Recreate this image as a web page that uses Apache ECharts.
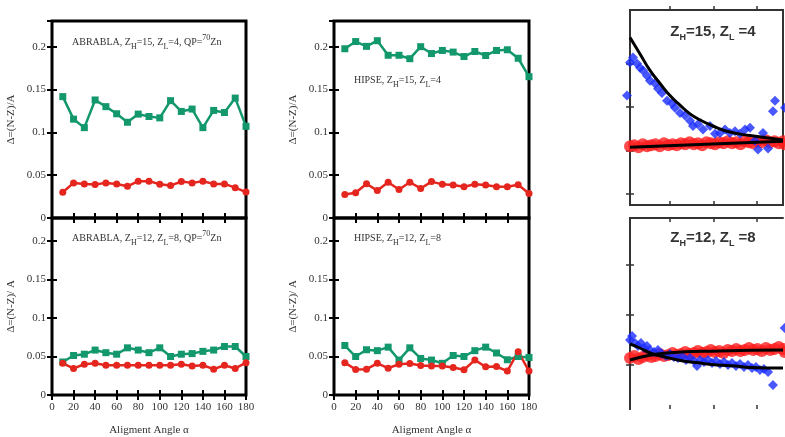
<html>
<head>
<meta charset="utf-8">
<script src="https://cdn.jsdelivr.net/npm/echarts@6/dist/echarts.min.js"></script>
<style>
  html, body, #main { width: 785px; height: 437px; margin: 0; background: #fff; }
</style>
</head>
<body>
<div id="main"></div>
<script>
// alignment angles (deg) of the simulation panels
var angles = [10, 20, 30, 40, 50, 60, 70, 80, 90, 100, 110, 120, 130, 140, 150, 160, 170, 180];

// ABRABLA, ZH=15, ZL=4
var abr1504Green = [0.1417, 0.1154, 0.1055, 0.1378, 0.130, 0.1217, 0.1118, 0.1213, 0.1185, 0.1169, 0.137, 0.1244, 0.1272, 0.1055, 0.1256, 0.1232, 0.140, 0.107];
var abr1504Red = [0.030, 0.041, 0.0398, 0.039, 0.041, 0.0398, 0.037, 0.043, 0.043, 0.0394, 0.038, 0.0425, 0.041, 0.043, 0.0398, 0.0398, 0.0354, 0.0303];
// ABRABLA, ZH=12, ZL=8
var abr1208Green = [0.0429, 0.0513, 0.053, 0.0584, 0.055, 0.053, 0.0613, 0.0584, 0.055, 0.0613, 0.050, 0.053, 0.0538, 0.0567, 0.0584, 0.063, 0.063, 0.050];
var abr1208Red = [0.0412, 0.0345, 0.040, 0.0412, 0.0387, 0.0387, 0.0387, 0.0387, 0.0387, 0.0387, 0.0387, 0.040, 0.0378, 0.0387, 0.0336, 0.0387, 0.0345, 0.042];
// HIPSE, ZH=15, ZL=4
var hip1504Green = [0.1976, 0.206, 0.2004, 0.207, 0.190, 0.190, 0.186, 0.200, 0.192, 0.1956, 0.1937, 0.1885, 0.1944, 0.1897, 0.1956, 0.1964, 0.1865, 0.165];
var hip1504Red = [0.0274, 0.0294, 0.040, 0.032, 0.0417, 0.0333, 0.0417, 0.0345, 0.0425, 0.0393, 0.0385, 0.0365, 0.0393, 0.0385, 0.0365, 0.0365, 0.0389, 0.0286];
// HIPSE, ZH=12, ZL=8
var hip1208Green = [0.0643, 0.050, 0.0588, 0.0576, 0.0622, 0.0454, 0.0613, 0.0475, 0.0454, 0.0412, 0.0513, 0.050, 0.0576, 0.0622, 0.0546, 0.0458, 0.050, 0.0487];
var hip1208Red = [0.042, 0.0332, 0.0336, 0.0412, 0.0349, 0.040, 0.0408, 0.0382, 0.0378, 0.0378, 0.0357, 0.0328, 0.0454, 0.0366, 0.037, 0.0311, 0.0563, 0.0311];

// experimental panels (right column), [x, y] pairs
var exp1504Blue = [[-3.5, 0.163], [0, 0.201], [3.5, 0.207], [8.2, 0.200], [11.8, 0.195], [15.3, 0.192], [20, 0.186], [23.5, 0.180], [29.4, 0.177], [33, 0.171], [37.6, 0.166], [43.5, 0.157], [49.4, 0.154], [52.9, 0.149], [58.8, 0.143], [64.7, 0.140], [70.6, 0.134], [74.1, 0.128], [80, 0.130], [85.9, 0.124], [94.1, 0.128], [100, 0.119], [105.9, 0.120], [111.8, 0.124], [117.6, 0.120], [123.5, 0.122], [129.4, 0.119], [135.3, 0.124], [141.2, 0.126], [147, 0.111], [150.6, 0.101], [156.5, 0.120], [162.4, 0.102], [168.2, 0.145], [170.6, 0.157], [182.4, 0.149]];
var exp1504Red = [[0, 0.1047], [5, 0.1058], [10, 0.1035], [15, 0.107], [20, 0.1047], [25, 0.1058], [30, 0.107], [35, 0.1047], [40, 0.1081], [45, 0.1058], [50, 0.107], [55, 0.1058], [60, 0.1081], [65, 0.107], [70, 0.1093], [75, 0.107], [80, 0.1081], [85, 0.1058], [90, 0.1093], [95, 0.1081], [100, 0.107], [105, 0.1093], [110, 0.1081], [115, 0.1105], [120, 0.1081], [125, 0.1093], [130, 0.107], [135, 0.1105], [140, 0.1093], [145, 0.1081], [150, 0.1105], [155, 0.1093], [160, 0.1116], [165, 0.1093], [170, 0.1105], [175, 0.1081], [180, 0.1105], [182, 0.107]];
var exp1504BlueFit = [[0, 0.230], [11.8, 0.211], [23.5, 0.192], [35.3, 0.177], [47, 0.163], [58.8, 0.152], [70.6, 0.142], [82.4, 0.135], [97.6, 0.128], [117.6, 0.121], [141.2, 0.117], [180, 0.112]];
var exp1504RedFit = [[0, 0.1035], [89.4, 0.107], [180, 0.1105]];

var exp1208Blue = [[0, 0.075], [2.4, 0.079], [5.9, 0.072], [9.4, 0.069], [12.9, 0.072], [16.5, 0.067], [20, 0.069], [23.5, 0.065], [28.2, 0.063], [32.9, 0.065], [37.6, 0.061], [42.4, 0.059], [47, 0.061], [51.8, 0.058], [56.5, 0.057], [61.2, 0.059], [65.9, 0.055], [70.6, 0.057], [75.3, 0.054], [78.8, 0.049], [82.4, 0.055], [87, 0.053], [91.8, 0.055], [96.5, 0.052], [101.2, 0.054], [105.9, 0.051], [110.6, 0.053], [115.3, 0.050], [120, 0.052], [124.7, 0.049], [129.4, 0.051], [134.1, 0.048], [138.8, 0.050], [143.5, 0.047], [148.2, 0.048], [152.9, 0.045], [157.6, 0.046], [162.4, 0.043], [168.2, 0.030], [182, 0.087]];
var exp1208Red = [[0, 0.057], [5, 0.059], [10, 0.056], [15, 0.058], [20, 0.060], [25, 0.058], [30, 0.059], [35, 0.061], [40, 0.059], [45, 0.060], [50, 0.062], [55, 0.060], [60, 0.061], [65, 0.063], [70, 0.061], [75, 0.062], [80, 0.064], [85, 0.062], [90, 0.063], [95, 0.065], [100, 0.063], [105, 0.064], [110, 0.062], [115, 0.065], [120, 0.064], [125, 0.066], [130, 0.064], [135, 0.065], [140, 0.067], [145, 0.065], [150, 0.066], [155, 0.064], [160, 0.067], [165, 0.065], [170, 0.066], [175, 0.068], [180, 0.066], [182, 0.063]];
var exp1208BlueFit = [[0, 0.071], [11.8, 0.067], [23.5, 0.062], [41.2, 0.058], [62.4, 0.054], [82.4, 0.052], [102.4, 0.050], [123.5, 0.049], [141.2, 0.0475], [180, 0.047]];
var exp1208RedFit = [[0, 0.055], [43.5, 0.062], [105.9, 0.064], [180, 0.065]];

var GREEN = '#13976c';
var RED = '#e5261f';
var SERIF = 'Liberation Serif';

var chart = echarts.init(document.getElementById('main'));

var grids = [
  { left: 52, top: 21, width: 194, height: 197 },
  { left: 52, top: 218, width: 194, height: 182 },
  { left: 334, top: 21, width: 195, height: 197 },
  { left: 334, top: 218, width: 195, height: 182 },
  { left: 630, top: 10, width: 153, height: 195 },
  { left: 630, top: 218, width: 153, height: 191 }
];
grids.forEach(function (g, i) {
  g.show = true;
  g.backgroundColor = 'transparent';
  g.borderColor = i < 4 ? '#000' : '#333';
  g.borderWidth = i < 4 ? 3 : (i == 5 ? 0 : 2);
});

var xAxes = [];
var yAxes = [];
var series = [];

var tickStyle = { inside: true, length: 5, lineStyle: { color: '#000', width: 2 } };

function simPanel(gi, bottomRow, green, red, yName) {
  xAxes.push({
    gridIndex: gi, type: 'value', min: 0, max: 180, interval: 20, position: 'bottom',
    axisLine: { show: false }, splitLine: { show: false }, axisTick: tickStyle,
    axisLabel: { show: bottomRow, color: '#333', fontFamily: SERIF, fontSize: 11, margin: 7 },
    name: bottomRow ? 'Aligment Angle α' : '', nameLocation: 'middle', nameGap: 30,
    nameTextStyle: { color: '#333', fontFamily: SERIF, fontSize: 11 }
  });
  xAxes.push({
    gridIndex: gi, type: 'value', min: 0, max: 180, interval: 20, position: 'top',
    axisLine: { show: false }, splitLine: { show: false }, axisTick: tickStyle,
    axisLabel: { show: false }
  });
  yAxes.push({
    gridIndex: gi, type: 'value', min: 0, max: 0.23, interval: 0.05, position: 'left',
    axisLine: { show: false }, splitLine: { show: false }, axisTick: tickStyle,
    axisLabel: { color: '#333', fontFamily: SERIF, fontSize: 11, margin: 6, showMaxLabel: false },
    name: yName, nameLocation: 'middle', nameRotate: 90, nameGap: 35,
    nameTextStyle: { color: '#333', fontFamily: SERIF, fontSize: 11 }
  });
  yAxes.push({
    gridIndex: gi, type: 'value', min: 0, max: 0.23, interval: 0.05, position: 'right',
    axisLine: { show: false }, splitLine: { show: false }, axisTick: tickStyle,
    axisLabel: { show: false }
  });
  var xi = xAxes.length - 2, yi = yAxes.length - 2;
  series.push({
    type: 'line', xAxisIndex: xi, yAxisIndex: yi, clip: false,
    data: angles.map(function (a, k) { return [a, green[k]]; }),
    symbol: 'rect', symbolSize: 7, itemStyle: { color: GREEN },
    lineStyle: { color: GREEN, width: 2.5 }, animation: false
  });
  series.push({
    type: 'line', xAxisIndex: xi, yAxisIndex: yi, clip: false,
    data: angles.map(function (a, k) { return [a, red[k]]; }),
    symbol: 'circle', symbolSize: 7, itemStyle: { color: RED },
    lineStyle: { color: RED, width: 2.5 }, animation: false
  });
}

simPanel(0, false, abr1504Green, abr1504Red, 'Δ=(N-Z)/A');
simPanel(1, true, abr1208Green, abr1208Red, 'Δ=(N-Z)/ A');
simPanel(2, false, hip1504Green, hip1504Red, 'Δ=(N-Z)/A');
simPanel(3, true, hip1208Green, hip1208Red, 'Δ=(N-Z)/ A');

var expTick = { inside: true, length: 4, lineStyle: { color: '#333', width: 1.5 } };

function expPanel(gi, yMin, yMax, yTicks, blue, red, blueFit, redFit, frameLines) {
  xAxes.push({
    gridIndex: gi, type: 'value', min: 0, max: 180, position: 'bottom',
    axisLine: { show: false }, splitLine: { show: false }, axisLabel: { show: false },
    axisTick: Object.assign({ customValues: [47, 98, 149] }, expTick)
  });
  xAxes.push({
    gridIndex: gi, type: 'value', min: 0, max: 180, position: 'top',
    axisLine: { show: frameLines, lineStyle: { color: '#333', width: 2 } },
    splitLine: { show: false }, axisLabel: { show: false },
    axisTick: Object.assign({}, expTick, { inside: gi != 4, customValues: [47, 98, 149] })
  });
  yAxes.push({
    gridIndex: gi, type: 'value', min: yMin, max: yMax, position: 'left',
    axisLine: { show: frameLines, lineStyle: { color: '#333', width: 2 } },
    splitLine: { show: false }, axisLabel: { show: false },
    axisTick: Object.assign({ customValues: yTicks }, expTick)
  });
  yAxes.push({
    gridIndex: gi, type: 'value', min: yMin, max: yMax, position: 'right',
    axisLine: { show: frameLines, lineStyle: { color: '#333', width: 2 } },
    splitLine: { show: false }, axisLabel: { show: false },
    axisTick: Object.assign({ customValues: yTicks }, expTick)
  });
  var xi = xAxes.length - 2, yi = yAxes.length - 2;
  series.push({
    type: 'scatter', xAxisIndex: xi, yAxisIndex: yi, clip: false, data: red,
    symbol: 'circle', symbolSize: 12, itemStyle: { color: '#ff1e1e' }, animation: false
  });
  series.push({
    type: 'scatter', xAxisIndex: xi, yAxisIndex: yi, clip: false, data: blue,
    symbol: 'diamond', symbolSize: 10, itemStyle: { color: '#1b2dff' }, animation: false
  });
  [blueFit, redFit].forEach(function (fit) {
    series.push({
      type: 'line', xAxisIndex: xi, yAxisIndex: yi, data: fit, smooth: true,
      showSymbol: false, lineStyle: { color: '#000', width: 3 }, animation: false
    });
  });
}

expPanel(4, 0.037, 0.2616, [0.05, 0.1, 0.15, 0.2], exp1504Blue, exp1504Red, exp1504BlueFit, exp1504RedFit, false);
expPanel(5, 0.006, 0.197, [0.05, 0.1, 0.15], exp1208Blue, exp1208Red, exp1208BlueFit, exp1208RedFit, true);

var simRich = {
  sub: { fontFamily: SERIF, fontSize: 8, lineHeight: 9, verticalAlign: 'bottom', fill: '#333' },
  sup: { fontFamily: SERIF, fontSize: 8, lineHeight: 9, verticalAlign: 'top', fill: '#333' }
};
var expRich = {
  sub: { fontFamily: 'Liberation Sans', fontWeight: 'bold', fontSize: 9, lineHeight: 10, verticalAlign: 'bottom', fill: '#333' }
};

function simLabel(x, y, text) {
  return {
    type: 'text', x: x, y: y,
    style: {
      text: text, fill: '#333', font: '10px "Liberation Serif"', lineHeight: 17,
      textVerticalAlign: 'middle', rich: simRich
    }
  };
}
function expLabel(x, y, text) {
  return {
    type: 'text', x: x, y: y,
    style: {
      text: text, fill: '#333', font: 'bold 15px "Liberation Sans"', lineHeight: 20,
      textAlign: 'center', textVerticalAlign: 'middle', rich: expRich
    }
  };
}

chart.setOption({
  backgroundColor: '#fff',
  animation: false,
  grid: grids,
  xAxis: xAxes,
  yAxis: yAxes,
  series: series,
  graphic: [
    simLabel(72, 42, 'ABRABLA, Z{sub|H}=15, Z{sub|L}=4, QP={sup|70}Zn'),
    simLabel(72, 238, 'ABRABLA, Z{sub|H}=12, Z{sub|L}=8, QP={sup|70}Zn'),
    simLabel(354, 80, 'HIPSE, Z{sub|H}=15, Z{sub|L}=4'),
    simLabel(354, 238, 'HIPSE, Z{sub|H}=12, Z{sub|L}=8'),
    expLabel(713, 32, 'Z{sub|H}=15, Z{sub|L} =4'),
    expLabel(713, 238, 'Z{sub|H}=12, Z{sub|L} =8')
  ]
});
</script>
</body>
</html>
